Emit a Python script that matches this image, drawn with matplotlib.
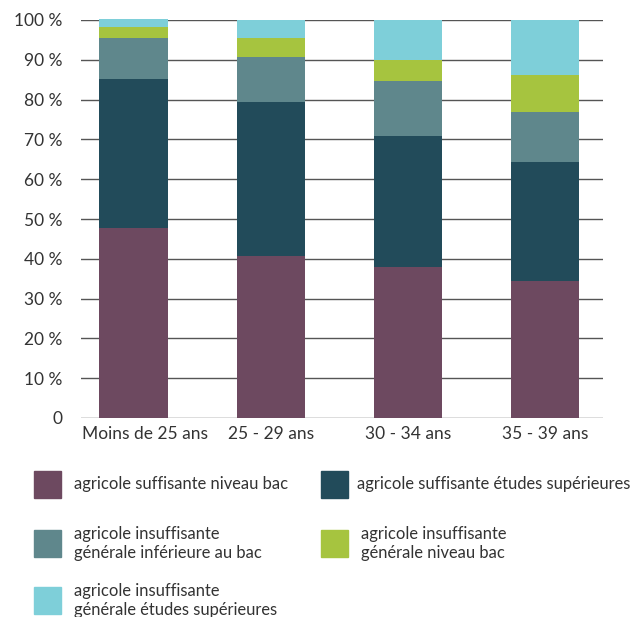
import matplotlib
matplotlib.use("Agg")
import matplotlib.pyplot as plt
from matplotlib.patches import Rectangle
import matplotlib.transforms as mtransforms
import numpy as np

plt.rcParams['font.family'] = ['Lato', 'DejaVu Sans']

categories = ["Moins de 25 ans", "25 - 29 ans", "30 - 34 ans", "35 - 39 ans"]
series_names = [
    "agricole suffisante niveau bac",
    "agricole suffisante études supérieures",
    "agricole insuffisante\ngénérale inférieure au bac",
    "agricole insuffisante\ngénérale niveau bac",
    "agricole insuffisante\ngénérale études supérieures",
]
suff_bac = [47.8, 40.8, 37.9, 34.5]
suff_sup = [37.4, 38.7, 32.9, 29.7]
insuff_inf = [10.3, 11.3, 13.9, 12.8]
insuff_bac = [2.7, 4.8, 5.2, 9.1]
insuff_sup = [2.1, 4.4, 10.1, 13.9]
yticks = [0, 10, 20, 30, 40, 50, 60, 70, 80, 90, 100]
ytick_labels = ["0"] + [f"{v} %" for v in yticks[1:]]

colors = ["#6D4960", "#224B5A", "#5F878C", "#A6C43F", "#7ECFD9"]
series = [suff_bac, suff_sup, insuff_inf, insuff_bac, insuff_sup]

W, H = 635, 617
fig = plt.figure(figsize=(W / 100, H / 100), dpi=100)
ax = fig.add_axes([81 / W, 1 - 418 / H, (603 - 81) / W, (418 - 20) / H])

x = np.arange(len(categories))
bottom = np.zeros(len(categories))
for vals, c in zip(series, colors):
    ax.bar(x, vals, bottom=bottom, width=0.5, color=c, zorder=3, clip_on=False)
    bottom += np.array(vals)

ax.set_xlim(-0.385, 3.425)
ax.set_ylim(0, 100)
ax.set_yticks(yticks)
ax.set_yticklabels(ytick_labels)
ax.set_xticks(x)
ax.set_xticklabels(categories)
ax.yaxis.grid(True, color="#555555", linewidth=1.0, zorder=0)
ax.set_axisbelow(True)
for s in ax.spines.values():
    s.set_visible(False)
ax.tick_params(axis='both', length=0, labelsize=12.5, colors="#333333")
ax.tick_params(axis='y', pad=13.5)
ax.tick_params(axis='x', pad=6)

# first category label sits a little right of its bar in the reference
first = ax.get_xticklabels()[0]
first.set_transform(first.get_transform() +
                    mtransforms.ScaledTranslation(11 / 100, 0, fig.dpi_scale_trans))

# legend (manual)
def legend_item(x0, ytop, color, label, tx):
    fig.add_artist(Rectangle((x0 / W, 1 - (ytop + 27) / H), 27 / W, 27 / H,
                             transform=fig.transFigure, color=color))
    fig.text(tx / W, 1 - (ytop + 13.5) / H, label, ha="left", va="center",
             fontsize=11.9, color="#333333", linespacing=1.3)

legend_item(34, 471, colors[0], series_names[0], 74)
legend_item(321, 471, colors[1], series_names[1], 357)
legend_item(34, 530, colors[2], series_names[2], 74)
legend_item(321, 530, colors[3], series_names[3], 361)
legend_item(34, 587, colors[4], series_names[4], 74)

fig.savefig("out.png", dpi=100)
